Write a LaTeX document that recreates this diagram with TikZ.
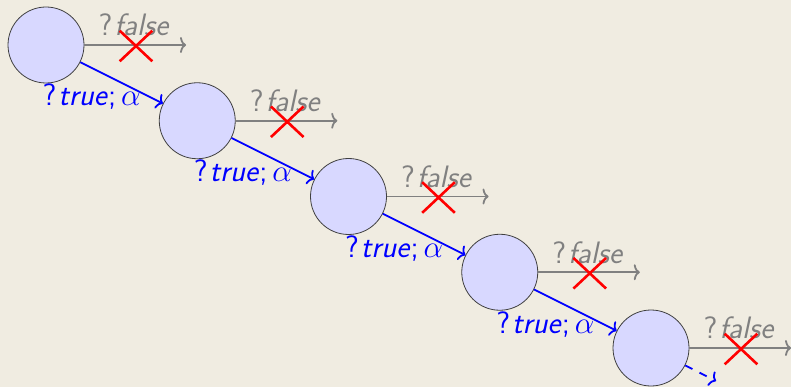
\RequirePackage{fix-cm}
\documentclass[tikz,border=0pt]{standalone}
\usetikzlibrary{arrows.meta,shapes.misc,calc}
\definecolor{bg}{RGB}{240,236,225}
\definecolor{stfill}{RGB}{216,216,255}
\definecolor{failgray}{RGB}{128,128,128}
\tikzset{
  state/.style={circle, draw=black!75, fill=stfill, minimum size=76pt, inner sep=0pt, line width=0.8pt},
  arr/.style={-{To[length=6pt,width=16pt]}, line width=1.8pt},
  trans/.style={arr, blue},
  fail/.style={arr, failgray},
  xmark/.style={cross out, draw=red, line width=2.6pt, minimum width=30pt, minimum height=28pt, inner sep=0pt},
  lbl/.style={font=\fontsize{31}{34}\selectfont\sffamily, inner sep=0pt},
}
\newcommand{\truelbl}{?\kern2pt\textit{true};\kern5pt$\alpha$}
\newcommand{\falselbl}{?\kern2pt\textit{false}}
\begin{document}
\begin{tikzpicture}[x=1pt,y=-1pt]
\useasboundingbox (0,0) rectangle (791,387);
\fill[bg] (0,0) rectangle (791,387);
\foreach \i in {1,...,5}{
  \pgfmathsetmacro{\cx}{46+151.25*(\i-1)}
  \pgfmathsetmacro{\cy}{45+75.75*(\i-1)}
  \node[state] (s\i) at (\cx,\cy) {};
  \coordinate (f\i) at (\cx+140,\cy);
  \draw[fail] (s\i.east) -- (f\i);
  \node[lbl, text=failgray] (fl\i) at (\cx+88,\cy-20) {\falselbl};
  \node[xmark] (x\i) at (\cx+90,\cy+1) {};
}
\foreach \i/\j in {1/2,2/3,3/4,4/5}{
  \draw[trans] (s\i) -- node[lbl, text=blue, shift={(-30,14)}] (tl\i) {\truelbl} (s\j);
}
\coordinate (d6) at (716,381);
\draw[trans, dash pattern=on 8pt off 8pt] (s5) -- (d6);
\end{tikzpicture}
\end{document}
